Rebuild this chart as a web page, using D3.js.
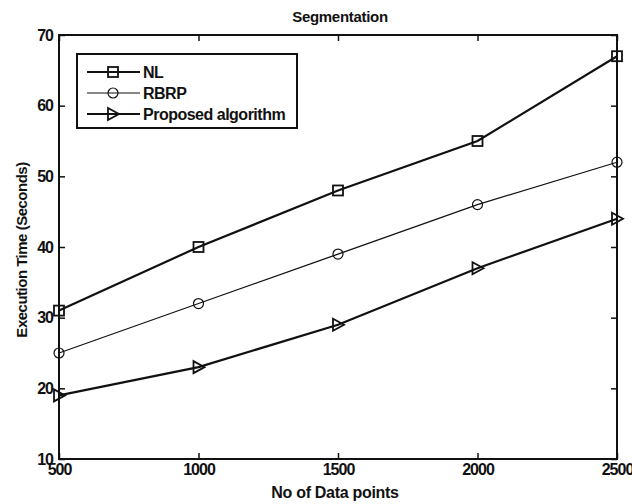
<!DOCTYPE html>
<html>
<head>
<meta charset="utf-8">
<script src="https://cdn.jsdelivr.net/npm/d3@7"></script>
<style>
  body { margin: 0; background: #fff; }
  text { font-family: "Liberation Sans", Arial, sans-serif; font-weight: bold; fill: #111; }
</style>
</head>
<body>
<svg id="chart" width="632" height="504"></svg>
<script>
var xValues = [500, 1000, 1500, 2000, 2500];
var nlValues = [31, 40, 48, 55, 67];
var rbrpValues = [25, 32, 39, 46, 52];
var proposedValues = [19, 23, 29, 37, 44];
var xTicks = [500, 1000, 1500, 2000, 2500];
var yTicks = [10, 20, 30, 40, 50, 60, 70];
var seriesNames = ["NL", "RBRP", "Proposed algorithm"];

var margin = { left: 59, top: 35, right: 15, bottom: 45 };
var width = 632 - margin.left - margin.right,
    height = 504 - margin.top - margin.bottom;

var svg = d3.select("#chart");
var g = svg.append("g").attr("transform", "translate(" + margin.left + "," + margin.top + ")");

var x = d3.scaleLinear().domain([500, 2500]).range([0, width]);
var y = d3.scaleLinear().domain([10, 70]).range([height, 0]);

// axes with inward ticks on all four sides
function styleAxis(sel) {
  sel.select(".domain").remove();
  sel.selectAll("line").attr("stroke", "#111").attr("stroke-width", 1.5);
  sel.selectAll("text").style("font-size", "16px").style("letter-spacing", "-1px");
}

g.append("g").attr("transform", "translate(0," + height + ")")
  .call(d3.axisBottom(x).tickValues(xTicks).tickSize(-6).tickPadding(5).tickFormat(d3.format("d")))
  .call(styleAxis);
g.append("g")
  .call(d3.axisTop(x).tickValues(xTicks).tickSize(-6).tickFormat(""))
  .call(styleAxis);
g.append("g")
  .call(d3.axisLeft(y).tickValues(yTicks).tickSize(-6).tickPadding(6))
  .call(styleAxis);
g.append("g").attr("transform", "translate(" + width + ",0)")
  .call(d3.axisRight(y).tickValues(yTicks).tickSize(-6).tickFormat(""))
  .call(styleAxis);

g.append("rect").attr("width", width).attr("height", height)
  .attr("fill", "none").attr("stroke", "#111").attr("stroke-width", 2);

var series = [
  { name: seriesNames[0], values: nlValues, marker: "square", sw: 2.2 },
  { name: seriesNames[1], values: rbrpValues, marker: "circle", sw: 1.2 },
  { name: seriesNames[2], values: proposedValues, marker: "triangle", sw: 2.2 }
];

var line = d3.line().x(function(d) { return x(d.x); }).y(function(d) { return y(d.y); });

function drawMarker(sel, type, cx, cy) {
  if (type === "square") {
    sel.append("rect").attr("x", cx - 5).attr("y", cy - 5).attr("width", 10).attr("height", 10)
      .attr("fill", "none").attr("stroke", "#111").attr("stroke-width", 1.8);
  } else if (type === "circle") {
    sel.append("circle").attr("cx", cx).attr("cy", cy).attr("r", 5)
      .attr("fill", "none").attr("stroke", "#111").attr("stroke-width", 1.2);
  } else {
    sel.append("path").attr("d", "M" + (cx - 5) + "," + (cy - 6) + "L" + (cx + 6) + "," + cy + "L" + (cx - 5) + "," + (cy + 6) + "Z")
      .attr("fill", "none").attr("stroke", "#111").attr("stroke-width", 1.8);
  }
}

series.forEach(function(s) {
  var pts = xValues.map(function(v, i) { return { x: v, y: s.values[i] }; });
  g.append("path").datum(pts).attr("d", line)
    .attr("fill", "none").attr("stroke", "#111").attr("stroke-width", s.sw);
  var mg = g.append("g");
  pts.forEach(function(p) { drawMarker(mg, s.marker, x(p.x), y(p.y)); });
});

// legend
var legend = g.append("g").attr("transform", "translate(18,19)");
legend.append("rect").attr("width", 220).attr("height", 74)
  .attr("fill", "#fff").attr("stroke", "#111").attr("stroke-width", 2);
series.forEach(function(s, i) {
  var ly = 18 + i * 21;
  legend.append("line").attr("x1", 10).attr("x2", 63).attr("y1", ly).attr("y2", ly)
    .attr("stroke", "#111").attr("stroke-width", s.sw);
  drawMarker(legend, s.marker, 36, ly);
  legend.append("text").attr("x", 66).attr("y", ly + 6)
    .style("font-size", "16px").style("letter-spacing", "-0.5px").text(s.name);
});

// titles
svg.append("text").attr("x", 340).attr("y", 22)
  .attr("text-anchor", "middle").style("font-size", "15px").style("letter-spacing", "-0.3px").text("Segmentation");
svg.append("text").attr("x", 335).attr("y", 498)
  .attr("text-anchor", "middle").style("font-size", "16px").style("letter-spacing", "-0.3px").text("No of Data points");
svg.append("text").attr("transform", "translate(27,250) rotate(-90)")
  .attr("text-anchor", "middle").style("font-size", "15px").style("letter-spacing", "-0.5px").text("Execution Time (Seconds)");
</script>
</body>
</html>
